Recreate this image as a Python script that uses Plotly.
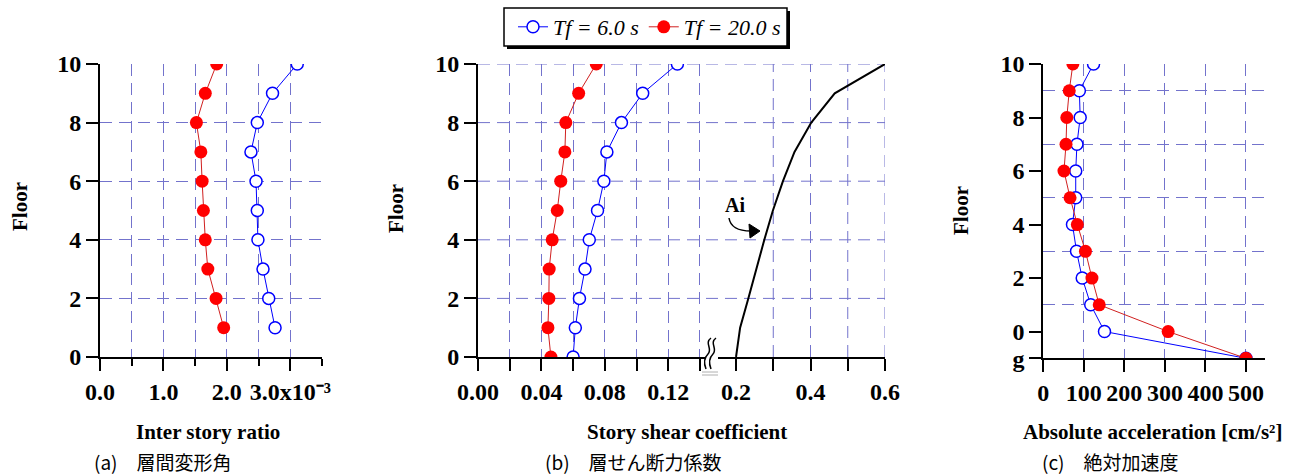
import plotly.graph_objects as go

W, H = 1303, 475

# ---------------- data ----------------
floors_a = [1, 2, 3, 4, 5, 6, 7, 8, 9, 10]
drift_tf6_e3 = [2.76, 2.66, 2.57, 2.49, 2.48, 2.46, 2.38, 2.48, 2.72, 3.11]   # x10^-3
drift_tf20_e3 = [1.95, 1.83, 1.70, 1.66, 1.63, 1.61, 1.59, 1.52, 1.66, 1.84]

floors_b = [0, 1, 2, 3, 4, 5, 6, 7, 8, 9, 10]
shear_tf6 = [0.060, 0.0614, 0.064, 0.0675, 0.0702, 0.0754, 0.0794, 0.0813, 0.0905, 0.1039, 0.1258]
shear_tf20 = [0.046, 0.0441, 0.0447, 0.0449, 0.0468, 0.050, 0.0522, 0.0548, 0.0554, 0.0635, 0.0746]
shear_ai = [0.2, 0.211, 0.233, 0.254, 0.276, 0.299, 0.326, 0.357, 0.402, 0.465, 0.6]

floors_c = [-1, 0, 1, 2, 3, 4, 5, 6, 7, 8, 9, 10]   # -1 = ground "g"
acc_tf6 = [500, 151, 117, 96, 82, 72, 80, 80, 83, 91, 89, 124]
acc_tf20 = [500, 308, 138, 120, 104, 84, 66, 51, 56, 58, 64, 73]

ticks_a = [0, 1, 2, 3]
ticktext_a = ["0.0", "1.0", "2.0", "3.0x10\u207b\u00b3"]
minor_a = [0.5, 1.5, 2.5, 3.5]
ticks_b1 = [0, 0.04, 0.08, 0.12]
ticktext_b1 = ["0.00", "0.04", "0.08", "0.12"]
minor_b1 = [0.02, 0.06, 0.10, 0.14]
ticks_b2 = [0.2, 0.4, 0.6]
ticktext_b2 = ["0.2", "0.4", "0.6"]
minor_b2 = [0.3, 0.5]
grid_b2 = [0.3, 0.4, 0.5, 0.6]
ticks_c = [0, 100, 200, 300, 400, 500]
yticks_ab = [0, 2, 4, 6, 8, 10]
yticks_c = [-1, 0, 2, 4, 6, 8, 10]
yticktext_c = ["g", "0", "2", "4", "6", "8", "10"]
ygrid_c = [1, 3, 5, 7, 9]

name_tf6 = "Tf = 6.0 s"
name_tf20 = "Tf = 20.0 s"

# ---------------- style ----------------
BLUE = "#0000ff"
RED = "#ff0000"
REDLINE = "#d02020"
GRID = "#7373cc"
DASH = "12px,7px"
SERIF = "Liberation Serif"
TICKFONT = dict(family=SERIF, size=24, color="black", weight="bold")


def px(x):
    return x / W


def py(y):
    return 1 - y / H


blue_style = dict(mode="lines+markers", line=dict(color=BLUE, width=1),
                  marker=dict(symbol="circle", size=12, color="white",
                              line=dict(color=BLUE, width=1.5)))
red_style = dict(mode="lines+markers", line=dict(color=REDLINE, width=1),
                 marker=dict(symbol="circle", size=13, color=RED,
                             line=dict(color=RED, width=0)))

fig = go.Figure()
# (a)
fig.add_trace(go.Scatter(x=drift_tf6_e3, y=floors_a, xaxis="x", yaxis="y",
                         name=name_tf6, legendgroup="tf6", **blue_style))
fig.add_trace(go.Scatter(x=drift_tf20_e3, y=floors_a, xaxis="x", yaxis="y",
                         name=name_tf20, legendgroup="tf20", **red_style))
# (b)
fig.add_trace(go.Scatter(x=shear_tf6, y=floors_b, xaxis="x2", yaxis="y2",
                         name=name_tf6, legendgroup="tf6", showlegend=False, **blue_style))
fig.add_trace(go.Scatter(x=shear_tf20, y=floors_b, xaxis="x2", yaxis="y2",
                         name=name_tf20, legendgroup="tf20", showlegend=False, **red_style))
fig.add_trace(go.Scatter(x=shear_ai, y=floors_b, xaxis="x3", yaxis="y2", mode="lines",
                         line=dict(color="black", width=2), name="Ai", showlegend=False))
# (c)
fig.add_trace(go.Scatter(x=acc_tf6, y=floors_c, xaxis="x4", yaxis="y3",
                         name=name_tf6, legendgroup="tf6", showlegend=False, **blue_style))
fig.add_trace(go.Scatter(x=acc_tf20, y=floors_c, xaxis="x4", yaxis="y3",
                         name=name_tf20, legendgroup="tf20", showlegend=False, **red_style))

axis_common = dict(showline=True, linecolor="black", linewidth=2, ticks="outside",
                   ticklen=12, tickwidth=2, tickcolor="black", zeroline=False,
                   automargin=False,
                   tickfont=TICKFONT, gridcolor=GRID, griddash=DASH, gridwidth=1)
minor_grid = dict(gridcolor=GRID, griddash=DASH, gridwidth=1)

ydom_ab = [py(357), py(64)]
ydom_c = [py(358.3), py(64)]

fig.update_layout(
    width=W, height=H, margin=dict(l=0, r=0, t=0, b=0, autoexpand=False),
    paper_bgcolor="white", plot_bgcolor="rgba(0,0,0,0)",
    showlegend=True,
    legend=dict(orientation="h", x=px(513), y=py(27), xanchor="left", yanchor="middle",
                bgcolor="rgba(0,0,0,0)", borderwidth=0,
                font=dict(family=SERIF, size=22, style="italic", color="black"),
                tracegroupgap=0),
    xaxis=dict(domain=[px(100), px(322)], range=[0, 3.5], anchor="y",
               tickvals=ticks_a, ticktext=ticktext_a, showgrid=True,
               minor=dict(tickvals=minor_a, ticks="outside", ticklen=7, tickwidth=2,
                          tickcolor="black", showgrid=True, **minor_grid),
               **axis_common),
    yaxis=dict(domain=ydom_ab, range=[0, 10], anchor="x", tickvals=yticks_ab,
               showgrid=True, **axis_common),
    xaxis2=dict(domain=[px(478), px(705)], range=[0, 0.1432], anchor="y2",
                tickvals=ticks_b1, ticktext=ticktext_b1, showgrid=True,
                minor=dict(tickvals=minor_b1, ticks="outside", ticklen=12, tickwidth=2,
                           tickcolor="black", showgrid=True, **minor_grid),
                **axis_common),
    yaxis2=dict(domain=ydom_ab, range=[0, 10], anchor="x2", tickvals=yticks_ab,
                showgrid=False, **axis_common),
    xaxis3=dict(domain=[px(718), px(885)], range=[0.1516, 0.6], anchor="y2",
                tickvals=ticks_b2, ticktext=ticktext_b2, showgrid=False,
                minor=dict(tickvals=minor_b2, ticks="outside", ticklen=12, tickwidth=2,
                           tickcolor="black", showgrid=False),
                **axis_common),
    xaxis4=dict(domain=[px(1043.3), px(1265)], range=[0, 547], anchor="y3",
                tickvals=ticks_c, showgrid=True, **axis_common),
    yaxis3=dict(domain=ydom_c, range=[-1, 10], anchor="x4", tickvals=yticks_c,
                ticktext=yticktext_c, showgrid=False,
                minor=dict(tickvals=ygrid_c, ticks="", showgrid=True, **minor_grid),
                **axis_common),
)

shapes = []
# panel (b) grid drawn as shapes: horizontal lines continuous across the axis break
for f in yticks_ab[1:]:
    shapes.append(dict(type="line", xref="paper", yref="y2", x0=px(478), x1=px(885),
                       y0=f, y1=f, line=dict(color=GRID, width=1, dash=DASH), layer="below"))
for g in grid_b2:
    shapes.append(dict(type="line", xref="x3", yref="paper", x0=g, x1=g,
                       y0=ydom_ab[0], y1=ydom_ab[1],
                       line=dict(color=GRID, width=1, dash=DASH), layer="below"))

# axis break symbol (two wavy lines + double grey bar)
for x0 in (709, 714):
    d = (f"M {px(x0+2)},{py(338)} "
         f"C {px(x0-5)},{py(343)} {px(x0+4)},{py(349)} {px(x0-1)},{py(354)} "
         f"S {px(x0-5)},{py(364)} {px(x0-3)},{py(369)}")
    shapes.append(dict(type="path", xref="paper", yref="paper", path=d,
                       line=dict(color="black", width=1.5)))
for yy in (372, 375):
    shapes.append(dict(type="line", xref="paper", yref="paper", x0=px(702), x1=px(718),
                       y0=py(yy), y1=py(yy), line=dict(color="#b0b0b0", width=1)))
# Ai curved arrow
d = f"M {px(729)},{py(218)} Q {px(731)},{py(231)} {px(751)},{py(231)}"
shapes.append(dict(type="path", xref="paper", yref="paper", path=d,
                   line=dict(color="black", width=1.5)))
d = f"M {px(749)},{py(224)} L {px(760)},{py(231)} L {px(750)},{py(238)} Z"
shapes.append(dict(type="path", xref="paper", yref="paper", path=d,
                   fillcolor="black", line=dict(color="black", width=1)))
# legend frame with drop shadow
shapes.append(dict(type="rect", xref="paper", yref="paper", x0=px(507), x1=px(790),
                   y0=py(49), y1=py(11), fillcolor="black", line=dict(width=0)))
shapes.append(dict(type="rect", xref="paper", yref="paper", x0=px(504), x1=px(787),
                   y0=py(46), y1=py(8), fillcolor="white",
                   line=dict(color="black", width=1.5)))
fig.update_layout(shapes=shapes)

TITLEFONT = dict(family=SERIF, size=21, color="black", weight="bold")
CAPFONT = dict(family="Noto Sans CJK JP", size=19, color="black")
ann = []
for text, cx in [("Inter story ratio", 208), ("Story shear coefficient", 687),
                 ("Absolute acceleration [cm/s\u00b2]", 1152)]:
    ann.append(dict(text=text, x=px(cx), y=py(432), xref="paper", yref="paper",
                    showarrow=False, xanchor="center", yanchor="middle", font=TITLEFONT))
for cx, cy in [(20, 207), (396, 209), (961, 211)]:
    ann.append(dict(text="Floor", x=px(cx), y=py(cy), xref="paper", yref="paper",
                    showarrow=False, xanchor="center", yanchor="middle", textangle=-90,
                    font=TITLEFONT))
for text, lx in [("(a)\u3000層間変形角", 92), ("(b)\u3000層せん断力係数", 543),
                 ("(c)\u2003絶対加速度", 1040)]:
    ann.append(dict(text=text, x=px(lx), y=py(461), xref="paper", yref="paper",
                    showarrow=False, xanchor="left", yanchor="middle", font=CAPFONT))
ann.append(dict(text="Ai", x=px(735), y=py(205), xref="paper", yref="paper", showarrow=False,
                xanchor="center", yanchor="middle",
                font=dict(family=SERIF, size=20, color="black", weight="bold")))
fig.update_layout(annotations=ann)

fig.write_html("out.html", config={"displayModeBar": False},
               post_script="document.body.style.margin='0px';document.body.style.overflow='hidden';")
